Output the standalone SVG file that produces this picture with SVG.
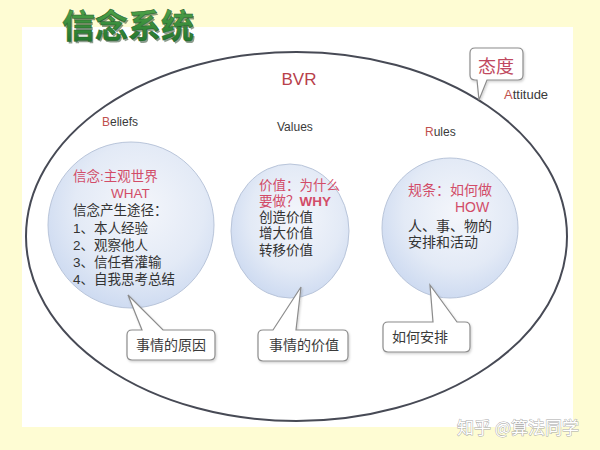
<svg xmlns="http://www.w3.org/2000/svg" width="600" height="450" viewBox="0 0 600 450">
<defs>
<radialGradient id="bub" cx="0.55" cy="0.4" r="0.65">
<stop offset="0" stop-color="#f4f6fb"/>
<stop offset="0.6" stop-color="#e3eaf6"/>
<stop offset="1" stop-color="#cad8f0"/>
</radialGradient>
<linearGradient id="tg" x1="0" y1="0" x2="0" y2="1">
<stop offset="0" stop-color="#5aae50"/>
<stop offset="1" stop-color="#1b6e28"/>
</linearGradient>
<filter id="sh" x="-10%" y="-10%" width="130%" height="140%">
<feDropShadow dx="1" dy="1.5" stdDeviation="1" flood-color="#000" flood-opacity="0.18"/>
</filter>
</defs>
<style>
text{font-family:"Liberation Sans","Noto Sans CJK SC",sans-serif}
.cjk{font-family:"Noto Sans CJK SC","Liberation Sans",sans-serif}
.bub{fill:url(#bub);stroke:#b9c5da;stroke-width:1}
.call{fill:#fff;stroke:#8c8c8c;stroke-width:1.2;filter:url(#sh)}
.red{fill:#d24c68}
.dk{fill:#333}
.lbl{font-size:12px;fill:#3a3a3a}
.ct{font-size:14px;fill:#3a3a3a}
</style>
<rect width="600" height="450" fill="#fefcd3"/>
<rect x="22" y="27" width="551" height="400" fill="#fff"/>
<g id="title">
<text x="63.5" y="39.5" class="cjk" font-size="33" font-weight="bold" fill="#1d3d1d" opacity="0.5">信念系统</text>
<text x="62" y="38" class="cjk" font-size="33" font-weight="bold" fill="url(#tg)" stroke="#24602a" stroke-width="0.5">信念系统</text>
</g>
<g id="bvr">
<ellipse cx="296.5" cy="236.5" rx="270.5" ry="184.5" fill="none" stroke="#474a55" stroke-width="2"/>
<text x="299" y="85" font-size="17" fill="#b8404a" text-anchor="middle">BVR</text>
</g>
<g id="beliefs">
<text x="102" y="126" class="lbl"><tspan fill="#c0504d">B</tspan>eliefs</text>
<circle cx="131" cy="225" r="83" class="bub"/>
<g class="cjk" font-size="13.5">
<text x="73" y="181" class="red">信念:主观世界</text>
<text x="111" y="198" class="red">WHAT</text>
<text x="73" y="215" class="dk">信念产生途径：</text>
<text x="73" y="233" class="dk">1、本人经验</text>
<text x="73" y="250" class="dk">2、观察他人</text>
<text x="73" y="267" class="dk">3、信任者灌输</text>
<text x="73" y="284" class="dk">4、自我思考总结</text>
</g>
</g>
<g id="values">
<text x="277" y="131" class="lbl">Values</text>
<ellipse cx="290" cy="231" rx="59" ry="67" class="bub"/>
<g class="cjk" font-size="13.5">
<text x="259" y="190" class="red">价值：为什么</text>
<text x="259" y="205.5" class="red">要做？<tspan font-weight="bold">WHY</tspan></text>
<text x="259" y="222" class="dk">创造价值</text>
<text x="259" y="238" class="dk">增大价值</text>
<text x="259" y="254.5" class="dk">转移价值</text>
</g>
</g>
<g id="rules">
<text x="425" y="136" class="lbl"><tspan fill="#c0504d">R</tspan>ules</text>
<ellipse cx="450" cy="228" rx="68" ry="70" class="bub"/>
<g class="cjk" font-size="14">
<text x="408" y="195" class="red">规条：如何做</text>
<text x="455" y="212" class="red">HOW</text>
<text x="408" y="231" class="dk">人、事、物的</text>
<text x="408" y="247" class="dk">安排和活动</text>
</g>
</g>
<g id="attitude">
<path class="call" d="M475,48 L518,48 Q523,48 523,53 L523,75 Q523,80 518,80 L487,80 L479,100 L477,80 L475,80 Q470,80 470,75 L470,53 Q470,48 475,48 Z"/>
<text x="496" y="73" class="cjk" font-size="18" fill="#c0485e" text-anchor="middle">态度</text>
<text x="504" y="99" font-size="13" fill="#3a3a3a"><tspan fill="#c0504d">A</tspan>ttitude</text>
</g>
<g id="connectors">
<g id="cause">
<path class="call" d="M132,330 L142,330 L128,295 L163,330 L210,330 Q215,330 215,335 L215,355 Q215,360 210,360 L132,360 Q127,360 127,355 L127,335 Q127,330 132,330 Z"/>
<text x="171" y="350" class="ct cjk" text-anchor="middle">事情的原因</text>
</g>
<g id="worth">
<path class="call" d="M263,330 L273,330 L301,287 L296,330 L343,330 Q348,330 348,335 L348,356 Q348,361 343,361 L263,361 Q258,361 258,356 L258,335 Q258,330 263,330 Z"/>
<text x="304" y="350" class="ct cjk" text-anchor="middle">事情的价值</text>
</g>
<g id="arrange">
<path class="call" d="M388,322 L433,322 L430,285 L457,322 L465,322 Q470,322 470,327 L470,347 Q470,352 465,352 L388,352 Q383,352 383,347 L383,327 Q383,322 388,322 Z"/>
<text x="420" y="342" class="ct cjk" text-anchor="middle">如何安排</text>
</g>
</g>
<g id="watermark">
<text x="457" y="434" class="cjk" font-size="17" fill="#fff" stroke="#a8a8a8" stroke-width="0.9" paint-order="stroke">知乎 @算法同学</text>
</g>
</svg>
